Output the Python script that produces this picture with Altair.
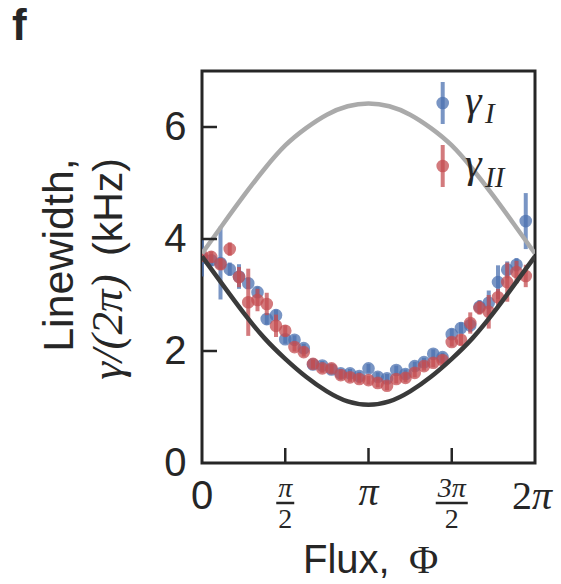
import altair as alt
import pandas as pd

# ---------------- data ----------------
FLUX_DEG = [0, 10, 20, 30, 40, 50, 60, 70, 80, 90, 100, 110, 120, 130, 140, 150, 160, 170,
            180, 190, 200, 210, 220, 230, 240, 250, 260, 270, 280, 290, 300, 310, 320, 330, 340, 350]
GAMMA_I = [3.66, 3.62, 3.57, 3.46, 3.33, 3.21, 3.05, 2.57, 2.64, 2.21, 2.20, 2.05, 1.76, 1.74,
           1.67, 1.60, 1.60, 1.55, 1.69, 1.54, 1.51, 1.66, 1.59, 1.73, 1.80, 1.95, 1.89, 2.30,
           2.41, 2.46, 2.79, 2.86, 3.23, 3.45, 3.54, 4.32]
GAMMA_I_ERR = [0.33, 0.10, 0.65, 0.12, 0.22, 0.10, 0.10, 0.10, 0.10, 0.08, 0.08, 0.08, 0.08, 0.08,
               0.08, 0.08, 0.08, 0.08, 0.08, 0.08, 0.08, 0.08, 0.08, 0.08, 0.08, 0.08, 0.08, 0.10,
               0.10, 0.12, 0.12, 0.22, 0.30, 0.15, 0.12, 0.50]
GAMMA_II = [3.70, 3.68, 3.55, 3.82, 3.32, 2.87, 2.91, 2.84, 2.45, 2.36, 2.07, 1.98, 1.77, 1.69,
            1.69, 1.57, 1.53, 1.50, 1.48, 1.43, 1.38, 1.50, 1.52, 1.61, 1.73, 1.79, 1.84, 2.16,
            2.20, 2.50, 2.77, 2.70, 2.96, 3.23, 3.41, 3.34]
GAMMA_II_ERR = [0.10, 0.10, 0.10, 0.12, 0.18, 0.60, 0.20, 0.20, 0.20, 0.10, 0.08, 0.08, 0.08, 0.08,
                0.08, 0.08, 0.08, 0.08, 0.08, 0.08, 0.08, 0.08, 0.08, 0.08, 0.08, 0.08, 0.08, 0.08,
                0.10, 0.19, 0.12, 0.30, 0.15, 0.35, 0.20, 0.20]

CURVE_FLUX_DEG = [0, 22.5, 45, 67.5, 90, 112.5, 135, 157.5, 180,
                  202.5, 225, 247.5, 270, 292.5, 315, 337.5, 360]
CURVE_UPPER = [3.74, 4.26, 4.77, 5.25, 5.67, 5.98, 6.22, 6.37, 6.42,
               6.37, 6.22, 5.98, 5.67, 5.25, 4.77, 4.26, 3.74]
CURVE_LOWER = [3.69, 3.18, 2.68, 2.23, 1.86, 1.54, 1.28, 1.10, 1.04,
               1.10, 1.28, 1.54, 1.86, 2.23, 2.68, 3.18, 3.69]

Y_TICKS = [0, 2, 4, 6]
X_INNER_TICKS = [90, 180, 270]
Y_INNER_TICKS = [2, 4, 6]

# ---------------- styling ----------------
BLUE = "#4C72B0"
RED = "#C44E52"
INK = "#262626"
SANS = "Liberation Sans"
SERIF = "Liberation Serif"
W, H = 333, 392
MSIZE = 160
EBW = 4

xs = alt.Scale(domain=[0, 360], nice=False, zero=False)
ys = alt.Scale(domain=[0, 7], nice=False, zero=False)
yaxis = alt.Axis(values=Y_TICKS, ticks=False, domain=False, grid=False, title=None,
                 labelFont=SANS, labelFontSize=40, labelColor=INK, labelPadding=16)


def series_df(vals, errs):
    return pd.DataFrame({
        "flux": FLUX_DEG,
        "value": vals,
        "lo": [v - e for v, e in zip(vals, errs)],
        "hi": [v + e for v, e in zip(vals, errs)],
    })


df_i = series_df(GAMMA_I, GAMMA_I_ERR)
df_ii = series_df(GAMMA_II, GAMMA_II_ERR)
df_curves = pd.DataFrame({"flux": CURVE_FLUX_DEG, "upper": CURVE_UPPER, "lower": CURVE_LOWER})


def err_layer(df, color):
    return alt.Chart(df).mark_rule(color=color, strokeWidth=EBW, opacity=0.75, clip=True).encode(
        x=alt.X("flux:Q", scale=xs, axis=None),
        y=alt.Y("lo:Q", scale=ys, axis=yaxis),
        y2="hi:Q",
    )


def pt_layer(df, color):
    return alt.Chart(df).mark_circle(color=color, size=MSIZE, opacity=0.75, clip=True).encode(
        x=alt.X("flux:Q", scale=xs, axis=None),
        y=alt.Y("value:Q", scale=ys, axis=yaxis),
    )


def curve_layer(field, color):
    return alt.Chart(df_curves).mark_line(color=color, strokeWidth=4.5, interpolate="natural",
                                          clip=True).encode(
        x=alt.X("flux:Q", scale=xs, axis=None),
        y=alt.Y(f"{field}:Q", scale=ys, axis=yaxis),
    )


layers = [
    err_layer(df_i, BLUE), pt_layer(df_i, BLUE),
    err_layer(df_ii, RED), pt_layer(df_ii, RED),
    curve_layer("upper", "#aaaaaa"), curve_layer("lower", "#3a3a3a"),
]

# inward ticks
layers.append(alt.Chart(pd.DataFrame({"t": X_INNER_TICKS})).mark_rule(color=INK, strokeWidth=2.5).encode(
    x=alt.X("t:Q", scale=xs, axis=None), y=alt.value(H), y2=alt.value(H - 15)))
layers.append(alt.Chart(pd.DataFrame({"t": Y_INNER_TICKS})).mark_rule(color=INK, strokeWidth=2.5).encode(
    y=alt.Y("t:Q", scale=ys, axis=yaxis), x=alt.value(0), x2=alt.value(15)))


def xlabel(flux, text, ypix, font, size, style="normal", align="center", dx=0):
    return alt.Chart(pd.DataFrame({"flux": [flux], "t": [text]})).mark_text(
        font=font, fontSize=size, fontStyle=style, color=INK, align=align,
        baseline="alphabetic", dx=dx).encode(
        x=alt.X("flux:Q", scale=xs, axis=None), y=alt.value(ypix), text="t:N")


layers += [
    xlabel(0, "0", 438, SANS, 40),
    xlabel(180, "π", 434, SERIF, 40, "italic"),
    xlabel(360, "2", 438, SERIF, 40, align="right", dx=-3),
    xlabel(360, "π", 438, SERIF, 40, "italic", align="left", dx=-3),
    xlabel(90, "π", 426, SERIF, 28, "italic"),
    xlabel(270, "3π", 426, SERIF, 28, "italic"),
    xlabel(90, "2", 457, SERIF, 28),
    xlabel(270, "2", 457, SERIF, 28),
]
for f, half in [(90, 9), (270, 16)]:
    layers.append(alt.Chart(pd.DataFrame({"flux": [f]})).mark_rule(
        color=INK, strokeWidth=2.5, xOffset=-half, x2Offset=half).encode(
        x=alt.X("flux:Q", scale=xs, axis=None), x2="flux:Q", y=alt.value(432)))


def ptext(text, x, y, font, size, style="normal", weight="normal", align="left", angle=0):
    return alt.Chart(pd.DataFrame({"t": [text]})).mark_text(
        font=font, fontSize=size, fontStyle=style, fontWeight=weight, color=INK,
        align=align, baseline="alphabetic", angle=angle).encode(
        x=alt.value(x), y=alt.value(y), text="t:N")


layers += [
    ptext("Flux,", 101, 502, SANS, 40),
    ptext("Φ", 207, 502, SERIF, 40),
    ptext("Linewidth,", -129, 184, SANS, 43, align="center", angle=270),
    ptext("(kHz)", -80, 136, SANS, 41, align="center", angle=270),
    ptext("γ/(2π)", -80, 256, SERIF, 45, style="italic", align="center", angle=270),
    ptext("f", -190, -31, SANS, 44, weight="bold"),
]

# legend
one = pd.DataFrame({"a": [0]})
for color, cy in [(BLUE, 32), (RED, 95)]:
    layers.append(alt.Chart(one).mark_rule(color=color, strokeWidth=EBW, opacity=0.75).encode(
        x=alt.value(240.7), y=alt.value(cy - 21), y2=alt.value(cy + 21)))
    layers.append(alt.Chart(one).mark_circle(color=color, size=MSIZE, opacity=0.75).encode(
        x=alt.value(240.7), y=alt.value(cy)))
layers += [
    ptext("γ", 263, 43, SERIF, 42, style="italic"),
    ptext("I", 283, 52, SERIF, 29, style="italic"),
    ptext("γ", 263, 106, SERIF, 42, style="italic"),
    ptext("II", 283, 116, SERIF, 29, style="italic"),
]

chart = alt.layer(*layers).properties(
    width=W, height=H,
    autosize=alt.AutoSizeParams(type="none"),
    padding={"left": 202, "top": 71, "right": 26, "bottom": 121},
    background="white",
).configure_view(stroke=INK, strokeWidth=3)

chart.save("out.html", embed_options={"renderer": "svg", "actions": False})
